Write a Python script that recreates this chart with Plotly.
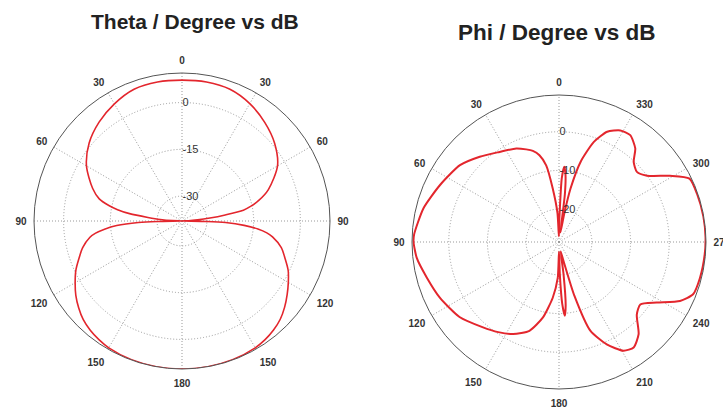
import plotly.graph_objects as go

# ---------------- Theta cut (left plot) ----------------
# plot angle (deg, clockwise from top); 0..180 right half, 180..360 left half
theta_angles = [0, 10, 20, 30, 40, 50, 60, 70, 75, 78, 80, 82, 84, 86, 88, 90,
                91, 92, 94, 96, 98, 100, 105, 110, 115, 120, 125, 130, 135, 140,
                145, 150, 160, 170, 180,
                190, 200, 210, 215, 220, 225, 230, 235, 240, 245, 250, 255, 260,
                262, 264, 266, 268, 269, 270,
                272, 274, 276, 278, 280, 282, 285, 290, 300, 310, 320, 330, 340, 350, 360]
theta_db = [7.2, 7.3, 7.0, 5.5, 3.3, 0.8, -2.6, -8.5, -12.5, -15.5, -18.0, -24.0, -29.0, -33.0, -36.0, -38.0,
            -30.0, -24.0, -18.0, -13.5, -10.5, -8.5, -5.0, -2.8, -0.4, 1.4, 3.2, 5.0, 6.6, 7.7,
            8.5, 9.0, 9.4, 9.5, 9.5,
            9.5, 9.4, 9.0, 8.5, 7.8, 6.8, 5.3, 3.6, 1.6, -0.4, -2.8, -5.0, -8.0,
            -10.0, -13.0, -17.0, -24.0, -30.0, -38.0,
            -35.0, -31.0, -27.0, -21.0, -17.0, -14.0, -10.5, -7.5, -2.6, 0.9, 3.4, 5.4, 7.0, 7.3, 7.2]
theta_tickvals = [0, 30, 60, 90, 120, 150, 180, 210, 240, 270, 300, 330]
theta_ticktext = ["0", "30", "60", "90", "120", "150", "180", "150", "120", "90", "60", "30"]
theta_rticks = [-30, -15, 0]
theta_range = [-38, 9.5]

# ---------------- Phi cut (right plot) ----------------
phi_angles = [0, 1.5, 3, 6.7, 9.5, 12.7, 16, 19.5, 24.6, 33.4, 42.9, 52.2, 64.4, 76, 87, 90,
              96.4, 105, 115, 127, 138, 146, 153.5, 161.6, 167.9, 173.6, 178, 180,
              181.5, 183, 184.5, 186, 188, 190, 193, 196, 199.5, 205, 210.7, 215.3,
              220.8, 227, 232.5, 238.2, 244, 248.7, 255.7, 265, 272, 280, 289, 295.9,
              300.8, 307, 312, 317, 320.8, 326.3, 331.2, 336.4, 340.8, 344.9, 347.8,
              349.5, 351.5, 353, 354.5, 356, 357.5, 359, 360]
phi_db = [-25, -27, -21, -14.5, -8.4, -5.5, -4.0, -3.1, -1.9, -0.6, 1.6, 3.9, 5.6, 7.6, 9.0, 9.1,
          8.5, 6.9, 5.5, 3.7, 1.1, -0.4, -1.9, -4.3, -8.5, -14.0, -19.2, -26.0,
          -20.0, -12.5, -9.4, -12.0, -20.0, -26.0, -24.0, -14.0, -4.1, 0.7, 4.2, 4.9,
          3.0, -1.0, -2.0, 1.2, 6.3, 8.7, 9.1, 9.3, 9.4, 9.4, 9.3, 9.0,
          4.9, 0.0, -1.4, -0.2, 2.7, 4.7, 4.4, 2.6, -1.1, -7.0, -14.3,
          -21.0, -26.0, -16.0, -11.0, -9.0, -12.0, -22.0, -25.0]
phi_tickvals = [0, 30, 60, 90, 120, 150, 180, 210, 240, 270, 300, 330]
phi_ticktext = ["0", "30", "60", "90", "120", "150", "180", "210", "240", "270", "300", "330"]
phi_rticks = [-20, -10, 0]
phi_range = [-28.5, 9.5]

W, H = 723, 412
FONT = "Liberation Sans, Arial, sans-serif"

fig = go.Figure()
fig.add_trace(go.Scatterpolar(r=theta_db, theta=theta_angles, mode="lines",
                              line=dict(color="#e3262d", width=1.6, shape="spline", smoothing=0.8),
                              subplot="polar", showlegend=False, hoverinfo="skip"))
fig.add_trace(go.Scatterpolar(r=phi_db, theta=phi_angles, mode="lines",
                              line=dict(color="#e3262d", width=2, shape="spline", smoothing=0.6),
                              subplot="polar2", showlegend=False, hoverinfo="skip"))


def dom(cx, cy, rad):
    return dict(x=[(cx - rad) / W, (cx + rad) / W],
                y=[(H - cy - rad) / H, (H - cy + rad) / H])


def polar_cfg(d, tv, tt, rt, rng, direction):
    return dict(
        domain=d,
        bgcolor="white",
        angularaxis=dict(
            rotation=90, direction=direction, tickmode="array", tickvals=tv, ticktext=tt,
            showline=True, linecolor="#555", linewidth=1,
            showgrid=True, gridcolor="#999", gridwidth=1, griddash="1px,2px",
            ticks="outside", ticklen=5, tickcolor="rgba(0,0,0,0)",
            tickfont=dict(family=FONT, size=10, color="#333", weight="bold"),
        ),
        radialaxis=dict(
            range=rng, tickmode="array", tickvals=rt, ticktext=[str(v) for v in rt],
            angle=90, showline=False, ticks="", showgrid=True, gridcolor="#999",
            gridwidth=1, griddash="1px,2px", tickangle=90,
            tickfont=dict(family=FONT, size=11, color="#333"),
        ),
    )


fig.update_layout(
    width=W, height=H, paper_bgcolor="white", plot_bgcolor="white",
    margin=dict(l=0, r=0, t=0, b=0),
    polar=polar_cfg(dom(182, 221, 148), theta_tickvals, theta_ticktext, theta_rticks,
                    theta_range, "clockwise"),
    polar2=polar_cfg(dom(559, 242, 147), phi_tickvals, phi_ticktext, phi_rticks,
                     phi_range, "counterclockwise"),
    annotations=[
        dict(text="<b>Theta / Degree vs dB</b>", x=195 / W, y=1 - 22 / H, xref="paper",
             yref="paper", showarrow=False, xanchor="center", yanchor="middle",
             font=dict(family=FONT, size=21, color="#222")),
        dict(text="<b>Phi / Degree vs dB</b>", x=557 / W, y=1 - 33 / H, xref="paper",
             yref="paper", showarrow=False, xanchor="center", yanchor="middle",
             font=dict(family=FONT, size=22.5, color="#222")),
    ],
)

fig.write_html("out.html", config={"displayModeBar": False},
               post_script="document.body.style.margin='0';document.body.style.overflow='hidden';")
